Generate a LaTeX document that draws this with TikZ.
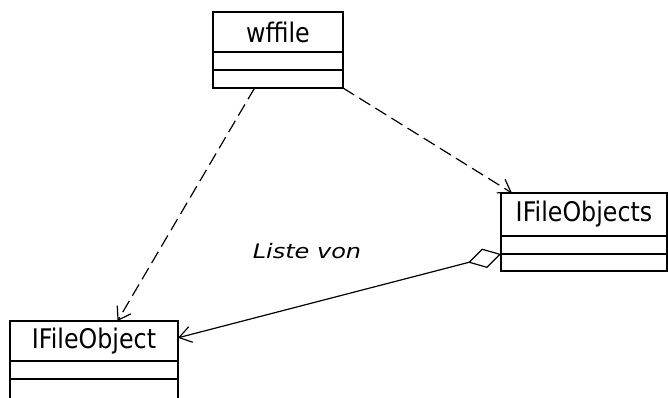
\documentclass[tikz,border=0pt]{standalone}
\usepackage{fontspec}
\setmainfont{DejaVu Sans}
\usetikzlibrary{arrows.meta,calc}
\newcommand\clstext[1]{\scalebox{0.88}[1]{#1}}
\begin{document}
\begin{tikzpicture}[x=1pt,y=-1pt,
  cls/.style={draw,line width=1.3pt,inner sep=0pt,outer sep=0pt,anchor=north west},
  boxfont/.style={font=\fontsize{27}{30}\selectfont},
  barb/.tip={Straight Barb[length=12pt,width=16pt,line width=1.2pt]},
  dep/.style={line width=1.2pt,dash pattern=on 13pt off 6pt,-barb},
  agg/.style={line width=1.2pt,{Diamond[open,length=34pt,width=20pt,line width=1.2pt]}-barb}
]
\useasboundingbox (0,0) rectangle (668,397);
\fill[white] (0,0) rectangle (668,397);

% wffile
\node[cls,boxfont,minimum width=130pt,minimum height=40pt] (wf1) at (213,12) {\clstext{wffile}};
\node[cls,minimum width=130pt,minimum height=18pt] (wf2) at (wf1.south west) {};
\node[cls,minimum width=130pt,minimum height=18pt] (wf3) at (wf2.south west) {};

% IFileObjects
\node[cls,boxfont,minimum width=166pt,minimum height=43pt] (ifs1) at (501,193) {\clstext{IFileObjects}};
\node[cls,minimum width=166pt,minimum height=18pt] (ifs2) at (ifs1.south west) {};
\node[cls,minimum width=166pt,minimum height=17pt] (ifs3) at (ifs2.south west) {};

% IFileObject
\node[cls,boxfont,minimum width=168pt,minimum height=40pt] (ifo1) at (10,321) {\clstext{IFileObject}};
\node[cls,minimum width=168pt,minimum height=18pt] (ifo2) at (ifo1.south west) {};
\node[cls,minimum width=168pt,minimum height=22pt] (ifo3) at (ifo2.south west) {};

% dependencies
\draw[dep] ($(wf3.south west)!0.32!(wf3.south east)$) -- ($(ifo1.north west)!0.64!(ifo1.north east)$);
\draw[dep] (wf3.south east) -- ($(ifs1.north west)!0.066!(ifs1.north east)$);

% aggregation
\draw[agg] (ifs2.south west) -- ($(ifo1.north east)!0.42!(ifo1.south east)$);
\node[font=\fontsize{20}{22}\selectfont\itshape] (lv) at (307,251) {\scalebox{1.2}[1]{Liste von}};
\end{tikzpicture}
\end{document}
